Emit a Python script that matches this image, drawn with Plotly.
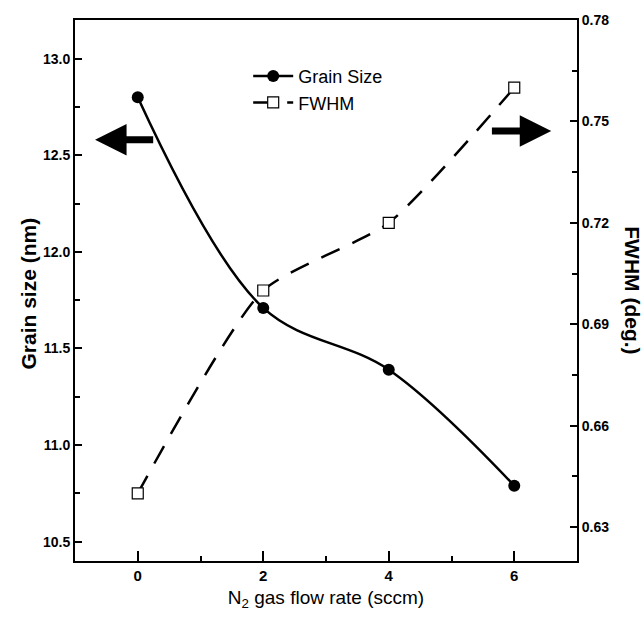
import plotly.graph_objects as go

flow_rate = [0, 2, 4, 6]
grain_size = [12.80, 11.71, 11.39, 10.79]
fwhm = [0.640, 0.700, 0.720, 0.760]

x_ticks = [0, 2, 4, 6]
left_ticks = [10.5, 11.0, 11.5, 12.0, 12.5, 13.0]
right_ticks = [0.63, 0.66, 0.69, 0.72, 0.75, 0.78]

FONT = "Liberation Sans, Arial"

fig = go.Figure()
fig.add_trace(go.Scatter(
    x=flow_rate, y=grain_size, name="Grain Size", mode="lines+markers",
    line=dict(color="black", width=2.5, shape="spline", smoothing=1.0),
    marker=dict(symbol="circle", size=12, color="black"),
    yaxis="y"))
fig.add_trace(go.Scatter(
    x=flow_rate, y=fwhm, name="FWHM", mode="lines+markers",
    line=dict(color="black", width=2.5, dash="20px,14px", shape="spline", smoothing=0.6),
    marker=dict(symbol="square", size=11, color="white", line=dict(color="black", width=1.2)),
    yaxis="y2"))

axis_common = dict(showline=True, linecolor="black", linewidth=2, ticks="inside",
                   tickcolor="black", tickwidth=2, showgrid=False, zeroline=False)

fig.update_layout(
    width=643, height=624,
    margin=dict(l=75, r=66, t=20, b=63),
    paper_bgcolor="white", plot_bgcolor="white",
    showlegend=True,
    legend=dict(x=0.345, y=0.93, xanchor="left", yanchor="top",
                font=dict(family=FONT, size=18, color="black"),
                bgcolor="rgba(0,0,0,0)", itemwidth=40, tracegroupgap=0),
    xaxis=dict(range=[-1, 7], tickvals=x_ticks, ticklen=10, mirror=True,
               minor=dict(dtick=1, tick0=0, ticklen=5, tickwidth=2, tickcolor="black", ticks="inside"),
               tickfont=dict(family=FONT, size=15, color="black", weight="bold"),
               title=dict(text="N<sub>2</sub> gas flow rate (sccm)",
                          font=dict(family=FONT, size=19, color="black"), standoff=8),
               **axis_common),
    yaxis=dict(range=[10.4, 13.2], tickvals=left_ticks, ticktext=[f"{v:.1f}" for v in left_ticks],
               ticklen=7,
               minor=dict(dtick=0.25, tick0=10.5, ticklen=5, tickwidth=2, tickcolor="black", ticks="inside"),
               tickfont=dict(family=FONT, size=14, color="black", weight="bold"),
               **axis_common),
    yaxis2=dict(range=[0.62, 0.78], tickvals=right_ticks, ticktext=[f"{v:.2f}" for v in right_ticks],
                overlaying="y", side="right", ticklen=7,
                minor=dict(dtick=0.015, tick0=0.63, ticklen=5, tickwidth=2, tickcolor="black", ticks="inside"),
                tickfont=dict(family=FONT, size=14, color="black", weight="bold"),
                **axis_common),
)

# left axis title
fig.add_annotation(text="Grain size (nm)", xref="paper", yref="paper", x=-0.093, y=0.495,
                   xanchor="center", yanchor="middle", textangle=-90, showarrow=False,
                   font=dict(family=FONT, size=21, color="black", weight="bold"))
# right axis title reading top-to-bottom
fig.add_annotation(text="FWHM (deg.)", xref="paper", yref="paper", x=1.11, y=0.5,
                   xanchor="center", yanchor="middle", textangle=90, showarrow=False,
                   font=dict(family=FONT, size=21, color="black", weight="bold"))

# direction arrows
fig.add_annotation(x=-0.68, y=12.58, ax=0.27, ay=12.58, xref="x", yref="y", axref="x", ayref="y",
                   showarrow=True, arrowhead=2, arrowsize=0.9, arrowwidth=7, arrowcolor="black", text="")
fig.add_annotation(x=6.59, y=12.625, ax=5.62, ay=12.625, xref="x", yref="y", axref="x", ayref="y",
                   showarrow=True, arrowhead=2, arrowsize=0.9, arrowwidth=7, arrowcolor="black", text="")

fig.write_html("out.html")
